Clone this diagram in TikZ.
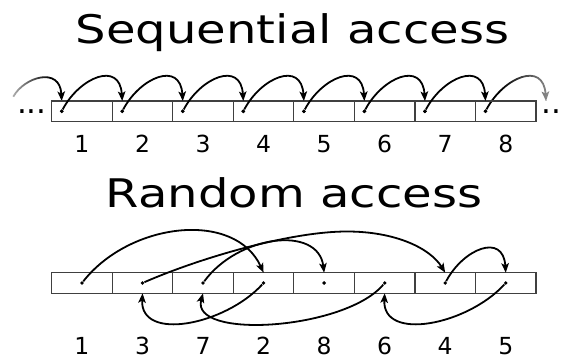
\documentclass[tikz,border=0pt]{standalone}
\usepackage{fontspec}
\setmainfont{DejaVu Sans}
\newfontfamily\headfont[FakeStretch=1.22]{DejaVu Sans}
\usetikzlibrary{arrows.meta,calc,fadings}

% white veils that lighten the open ends of the sequential row
\tikzfading[name=veilleft, left color=transparent!0, right color=transparent!100]
\tikzfading[name=veilright, left color=transparent!100, right color=transparent!0]

\begin{document}
\begin{tikzpicture}[x=1pt,y=-1pt,
  cellbox/.style={draw=black!75, line width=1.2pt, minimum width=60.54pt,
    minimum height=20.6pt, inner sep=0pt, outer sep=0pt, anchor=north west},
  spot/.style={circle, fill=black, inner sep=0pt, minimum size=3.8pt},
  hop/.style={line width=1.8pt, -{Stealth[length=9.5pt,width=7.5pt,inset=2.2pt]}},
  heading/.style={font=\headfont\fontsize{39.4}{40}\selectfont, inner sep=0pt, anchor=base},
  num/.style={font=\fontsize{23.5}{24}\selectfont, inner sep=0pt, anchor=base},
  ellip/.style={font=\fontsize{31}{31}\selectfont, inner sep=0pt, anchor=base west}]

\useasboundingbox (0,0) rectangle (563,358);

% ---------- headings ----------
\node[heading] (seqtitle) at (292.5,43.3) {Sequential access};
\node[heading] (rndtitle) at (294,207.7) {Random access};

% ---------- sequential row ----------
\foreach \i in {1,...,8}
  \node[cellbox] (s\i) at ({51.7+60.54*(\i-1)},101) {};
\foreach \i in {1,...,8}
  \node[spot] (sd\i) at ($(s\i.west)+(10,0)$) {};
\coordinate (inL) at (13.3,96.7);
\coordinate (outR) at ($(sd8 |- s8.north)+(60.54,0)$);

% open ends: arrow coming in and arrow going out
\draw[hop] (inL) .. controls +(10.7,-19.7) and +(-1.7,-35) .. (sd1 |- s1.north);
\draw[hop] (sd8) .. controls +(18,-34) and +(-2.5,-40.5) .. (outR);
\fill[white, path fading=veilleft] (-5,64) rectangle (50,100.2);
\fill[white, path fading=veilright, fill opacity=0.85] (500,64) rectangle (575,100.2);

% redraw cells and dots above the veils
\foreach \i in {1,...,8}
  \node[cellbox] at (s\i.north west) {};
\foreach \i in {1,...,8}
  \node[spot] at (sd\i) {};

\foreach \i [evaluate=\i as \j using int(\i+1)] in {1,...,7}
  \draw[hop] (sd\i) .. controls +(18,-34) and +(-2.5,-40.5) .. (sd\j |- s\j.north);

\node[ellip] (dotsL) at (16.8,113.3) {...};
\node[ellip] (dotsR) at (541.1,113.3) {...};

\foreach \i in {1,...,8}
  \node[num] (sl\i) at ($(s\i.south)+(0,31)$) {\i};

% ---------- random row ----------
\foreach \i in {1,...,8}
  \node[cellbox] (r\i) at ({51.7+60.54*(\i-1)},272.7) {};
\foreach \i in {1,...,8}
  \node[spot] (rd\i) at (r\i.center) {};
\foreach \lab [count=\i] in {1,3,7,2,8,6,4,5}
  \node[num] (rl\i) at ($(r\i.south)+(0,61)$) {\lab};

\coordinate (cpk) at (347,231.5);

% 1 -> 2
\draw[hop] (rd1) .. controls +(48,-61) and +(-28.6,-62.7) .. (rd4 |- r4.north);
% 2 -> 3
\draw[hop] (rd4) .. controls +(-38.6,42) and +(-2.5,48.7) .. (rd2 |- r2.south);
% 3 -> 4
\draw[hop] (rd2) .. controls +(57.5,-25) and +(-57,0) .. (cpk)
  .. controls +(48,0) and +(-15.2,-24.7) .. (rd7 |- r7.north);
% 4 -> 5
\draw[hop] (rd7) .. controls +(18,-34) and +(-2.5,-40.5) .. (rd8 |- r8.north);
% 5 -> 6
\draw[hop] (rd8) .. controls +(-38.6,42) and +(-2.5,48.7) .. (rd6 |- r6.south);
% 6 -> 7
\draw[hop] (rd6) .. controls +(-39.7,47) and +(-13.1,46.7) .. (rd3 |- r3.south);
% 7 -> 8
\draw[hop] (rd3) .. controls +(35,-48) and +(-6,-47.7) .. (rd5 |- r5.north);

\end{tikzpicture}
\end{document}
